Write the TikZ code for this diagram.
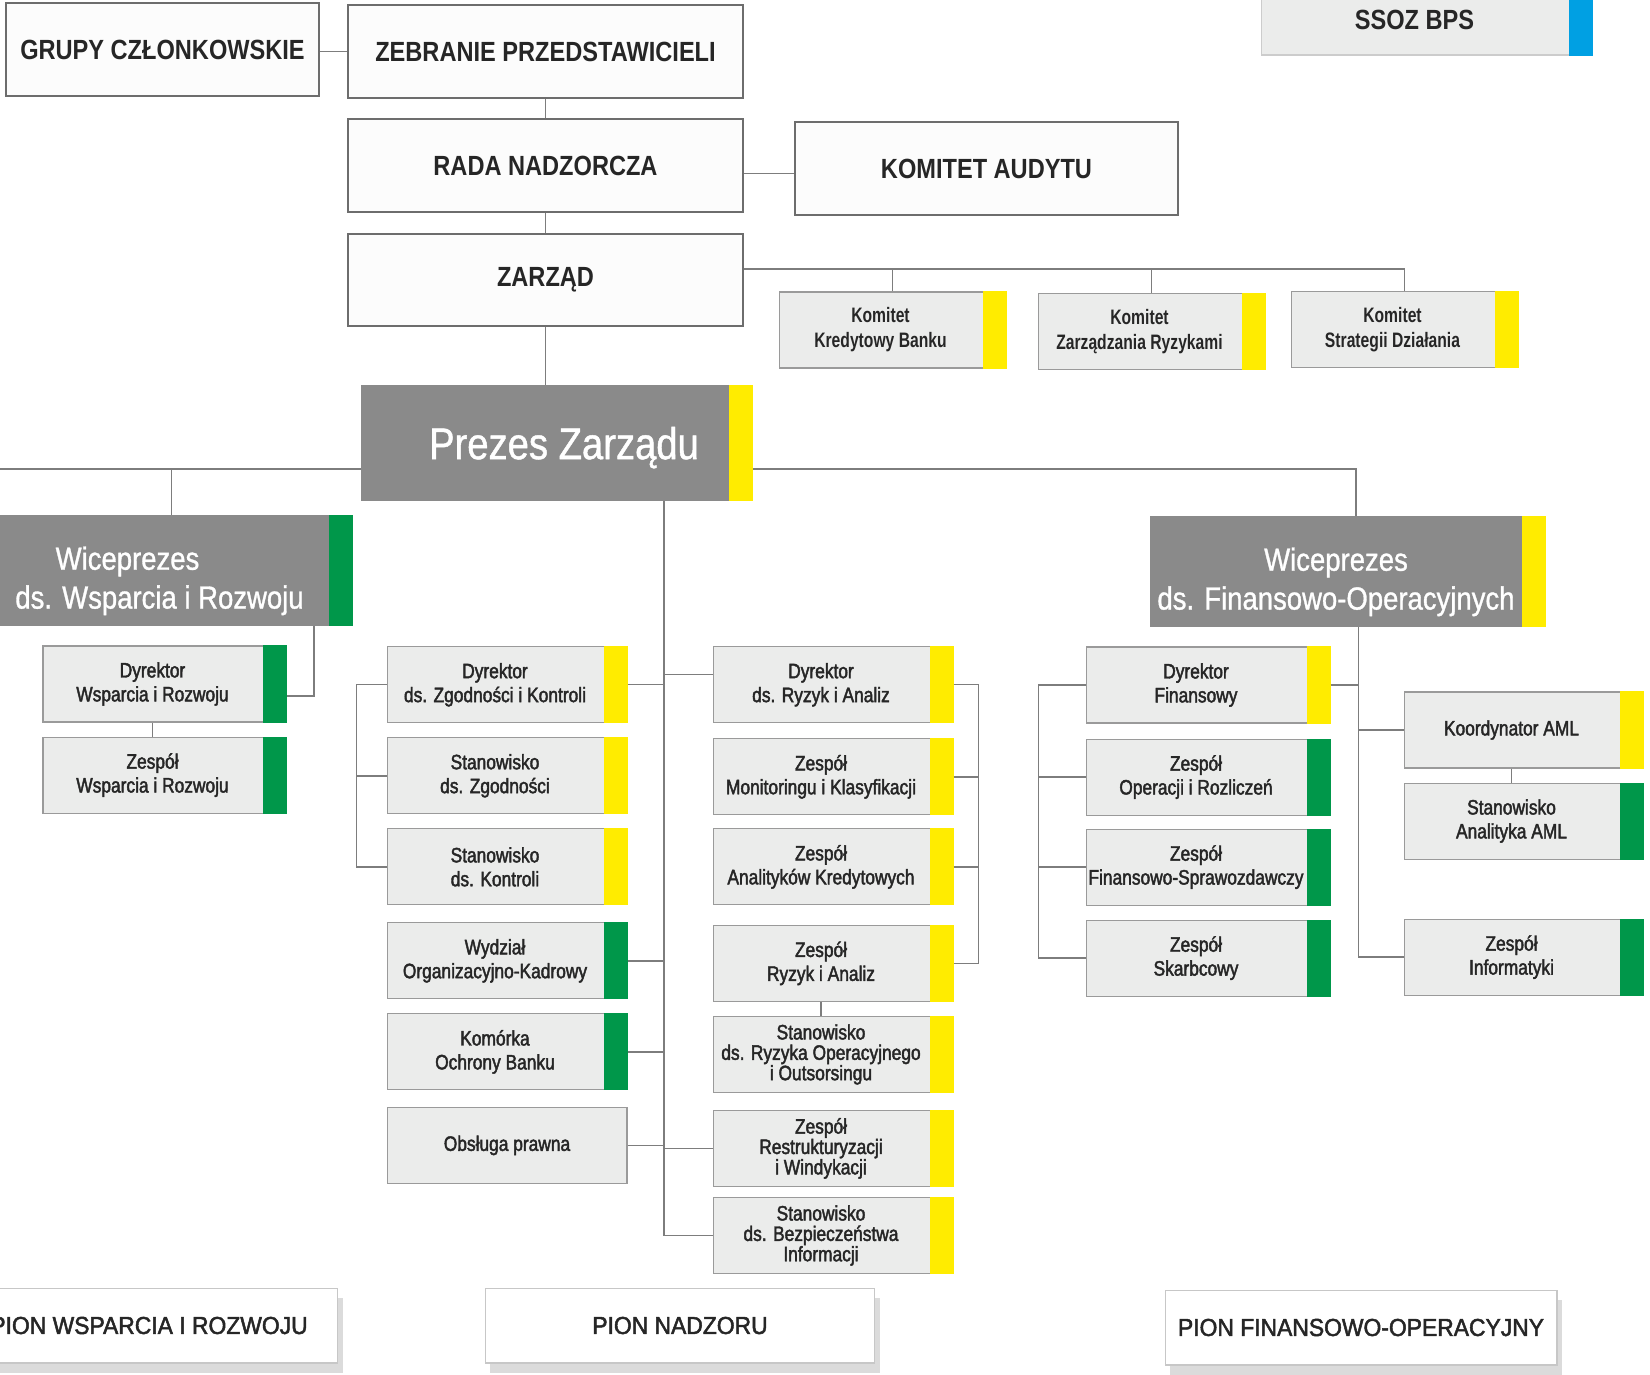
\documentclass[tikz,border=0pt]{standalone}
\usepackage{fontspec}
\setmainfont{Liberation Sans}[FakeStretch=0.83, FakeBold=2]
\newfontfamily\capsfont{Liberation Sans}[FakeStretch=0.85]
\newfontfamily\komfont{Liberation Sans}[FakeStretch=0.75]
\newfontfamily\headfont{Liberation Sans}[FakeStretch=0.86, FakeBold=1]
\newfontfamily\pionfont{Liberation Sans}[FakeStretch=0.93, FakeBold=2]
\usetikzlibrary{positioning,shadows}

\definecolor{ink}{HTML}{262626}
\definecolor{linegray}{HTML}{7D7D7D}
\definecolor{frame}{HTML}{6D6D6D}
\definecolor{boxfill}{HTML}{EBECEB}
\definecolor{boxline}{HTML}{9A9A9A}
\definecolor{headgray}{HTML}{8A8A8A}
\definecolor{yel}{HTML}{FFEC00}
\definecolor{grn}{HTML}{00974A}
\definecolor{blu}{HTML}{00A0E3}

\tikzset{board/.style={rectangle, draw=frame, line width=1.5pt, fill=white!99!black, text=ink,
 font=\capsfont\bfseries\fontsize{15.8}{19}\selectfont, minimum height=1.86cm, inner sep=0pt}}
\tikzset{cell/.style={rectangle, draw=boxline, line width=0.6pt, fill=boxfill, text=ink,
 font=\fontsize{11.9}{13.6}\selectfont, minimum height=1.52cm, minimum width=4.8cm, inner sep=0pt}}
\tikzset{unit/.style={cell, minimum width=#1, text width=#1, align=flush center,
 execute at begin node={\advance\rightskip by 0.48cm}}, unit/.default=4.8cm}
\tikzset{tight/.style={font=\fontsize{11.9}{11.6}\selectfont}}
\tikzset{komitet/.style={unit=4.54cm, font=\komfont\bfseries\fontsize{11.9}{14.2}\selectfont}}
\tikzset{head/.style={rectangle, fill=headgray, text=white, inner sep=0pt, minimum height=2.22cm}}
\tikzset{vp/.style={head, minimum width=#1, text width=#1, align=flush center,
 font=\headfont\fontsize{18.2}{22.1}\selectfont,
 execute at begin node={\advance\rightskip by 0.48cm\rule{0pt}{25pt}}}}
\tikzset{pion/.style={rectangle, draw=black!22, line width=0.6pt, fill=white, text=ink,
 font=\pionfont\fontsize{14}{17}\selectfont, minimum height=1.5cm, inner sep=0pt,
 drop shadow={shadow xshift=0.1cm, shadow yshift=-0.2cm, fill=black!14, opacity=1}}}
\tikzset{link/.style={draw=linegray, line width=0.8pt}}

\begin{document}
\begin{tikzpicture}[x=0.02cm, y=-0.02cm]
  \useasboundingbox (0,0) rectangle (1650,1374);
  \fill[white] (0,0) rectangle (1650,1374);

  % organy banku
  \node[board, minimum width=6.26cm] (grp) at (162.5,49.5) {GRUPY CZŁONKOWSKIE};
  \node[board, minimum width=7.9cm] (zeb) at (545.5,51.5) {ZEBRANIE PRZEDSTAWICIELI};
  \node[board, minimum width=7.9cm] (rada) at (545.5,165.5) {RADA NADZORCZA};
  \node[board, minimum width=7.9cm, minimum height=1.84cm] (zarz) at (545.5,280) {ZARZĄD};
  \node[board, minimum width=7.66cm] (kaud) at (986.5,168.5) {KOMITET AUDYTU};
  \node[cell, draw=black!20, minimum width=6.62cm, minimum height=1.4cm,
        font=\capsfont\bfseries\fontsize{15.8}{19}\selectfont,
        execute at begin node=\hspace*{-0.48cm}] (ssoz) at (1426.5,20) {SSOZ BPS};

  % komitety
  \node[komitet] (kkb) at (892.5,330) {Komitet\\Kredytowy Banku};
  \node[komitet] (kzr) at (1151.5,331.5) {Komitet\\Zarządzania Ryzykami};
  \node[komitet] (ksd) at (1404.5,329.5) {Komitet\\Strategii Działania};

  % prezes i wiceprezesi
  \node[head, minimum width=7.84cm, minimum height=2.32cm, text depth=0pt,
        font=\headfont\fontsize{25.3}{30}\selectfont,
        execute at begin node=\hspace*{0.28cm}] (prez) at (557,443) {Prezes Zarządu};
  \node[vp=7.26cm] (vwr) at (171.5,570.5) {Wiceprezes\hbox to 1.28cm{}\\ds. Wsparcia i Rozwoju};
  \node[vp=7.92cm] (vfo) at (1348,571.5) {Wiceprezes\\ds. Finansowo-Operacyjnych};

  % pion wsparcia i rozwoju
  \node[unit=4.86cm] (dwr) at (164.5,684) {Dyrektor\\Wsparcia i Rozwoju};
  \node[unit=4.86cm, below=0.28cm of dwr] (zwr) {Zespół\\Wsparcia i Rozwoju};

  % pion nadzoru
  \node[unit] (dzk) at (507,684.75) {Dyrektor\\ds. Zgodności i Kontroli};
  \node[unit, below=0.28cm of dzk] (szg) {Stanowisko\\ds. Zgodności};
  \node[unit, below=0.28cm of szg] (skn) {Stanowisko\\ds. Kontroli};
  \node[unit, below=0.34cm of skn] (wok) {Wydział\\Organizacyjno-Kadrowy};
  \node[unit, below=0.28cm of wok] (kob) {Komórka\\Ochrony Banku};
  \node[cell, below=0.33cm of kob] (obp) {Obsługa prawna};

  \node[unit] (dra) at (833,684.75) {Dyrektor\\ds. Ryzyk i Analiz};
  \node[unit, below=0.3cm of dra] (zmk) {Zespół\\Monitoringu i Klasyfikacji};
  \node[unit, below=0.26cm of zmk] (zak) {Zespół\\Analityków Kredytowych};
  \node[unit, below=0.39cm of zak] (zra) {Zespół\\Ryzyk i Analiz};
  \node[unit, tight, below=0.28cm of zra] (sro) {Stanowisko\\ds. Ryzyka Operacyjnego\\i Outsorsingu};
  \node[unit, tight, below=0.34cm of sro] (zrw) {Zespół\\Restrukturyzacji\\i Windykacji};
  \node[unit, tight, below=0.2cm of zrw] (sbi) {Stanowisko\\ds. Bezpieczeństwa\\Informacji};

  % pion finansowo-operacyjny
  \node[unit=4.88cm] (dfi) at (1208,685) {Dyrektor\\Finansowy};
  \node[unit=4.88cm, below=0.3cm of dfi] (zor) {Zespół\\Operacji i Rozliczeń};
  \node[unit=4.88cm, below=0.26cm of zor] (zfs) {Zespół\\Finansowo-Sprawozdawczy};
  \node[unit=4.88cm, below=0.28cm of zfs] (zsk) {Zespół\\Skarbcowy};

  \node[unit=4.78cm] (kaml) at (1523.5,730) {Koordynator AML};
  \node[unit=4.78cm, below=0.28cm of kaml] (saml) {Stanowisko\\Analityka AML};
  \node[unit=4.78cm, below=1.18cm of saml] (zinf) {Zespół\\Informatyki};

  % piony
  \node[pion, minimum width=7.56cm] (pwr) at (149,1325.5) {PION WSPARCIA I ROZWOJU};
  \node[pion, minimum width=7.8cm] (pnad) at (680,1325.5) {PION NADZORU};
  \node[pion, minimum width=7.84cm] (pfo) at (1361,1327.5) {PION FINANSOWO-OPERACYJNY};

  % paski
  \foreach \n in {kkb,kzr,ksd,prez,vfo,dzk,szg,skn,dra,zmk,zak,zra,sro,zrw,sbi,dfi,kaml}
    \fill[yel] ([xshift=-0.48cm]\n.north east) rectangle (\n.south east);
  \foreach \n in {vwr,dwr,zwr,wok,kob,zor,zfs,zsk,saml,zinf}
    \fill[grn] ([xshift=-0.48cm]\n.north east) rectangle (\n.south east);
  \fill[blu] ([xshift=-0.48cm]ssoz.north east) rectangle (ssoz.south east);

  % linie
  \path[link] (zeb.west -| grp.east) -- (zeb.west);
  \path[link] (zeb) -- (rada);
  \path[link] (rada) -- (zarz);
  \path[link] ([yshift=-0.1cm]rada.east |- kaud.west) -- ([yshift=-0.1cm]kaud.west);
  \path[link] (zarz.south) -- (zarz.south |- prez.north);

  \coordinate (cbus) at ([yshift=0.22cm]zarz.east);
  \path[link] (cbus) -| (ksd.north);
  \foreach \n in {kkb,kzr} \path[link] (\n.north) -- (\n.north |- cbus);

  \coordinate (pbus) at ([yshift=-0.52cm]prez.west);
  \path[link] (pbus) -- (pbus -| vwr.west);
  \path[link] (vwr.north) -- (vwr.north |- pbus);
  \path[link] (prez.east |- pbus) -| ([xshift=0.16cm]vfo.north);

  \path[link] ([xshift=2.85cm]vwr.south) |- ([yshift=-0.24cm]dwr.east);
  \path[link] ([xshift=-0.24cm]dwr.south) -- ([xshift=-0.24cm]zwr.north);

  \coordinate (nad) at ([xshift=2.14cm]prez.south);
  \path[link] (nad) |- (sbi.west);
  \foreach \n in {dzk,wok,kob,obp} \path[link] (\n.east) -- (\n.east -| nad);
  \path[link] ([yshift=0.2cm]dra.west) -- ([yshift=0.2cm]dra.west -| nad);
  \path[link] (zrw.west) -- (zrw.west -| nad);
  \path[link] (dzk.west) -- ++(-30,0) |- (skn.west);
  \path[link] (szg.west) -- ++(-30,0);
  \path[link] (dra.east) -- ++(25,0) |- (zra.east);
  \foreach \n in {zmk,zak} \path[link] (\n.east) -- ++(25,0);
  \path[link] ([xshift=-0.24cm]zra.south) -- ([xshift=-0.24cm]sro.north);

  \coordinate (fin) at ([xshift=0.21cm]vfo.south);
  \path[link] (fin) |- (zinf.west);
  \path[link] (dfi.east) -- (dfi.east -| fin);
  \path[link] (kaml.west) -- (kaml.west -| fin);
  \path[link] (dfi.west) -- ++(-47,0) |- (zsk.west);
  \foreach \n in {zor,zfs} \path[link] (\n.west) -- ++(-47,0);
  \path[link] ([xshift=-0.24cm]kaml.south) -- ([xshift=-0.24cm]saml.north);
\end{tikzpicture}
\end{document}
